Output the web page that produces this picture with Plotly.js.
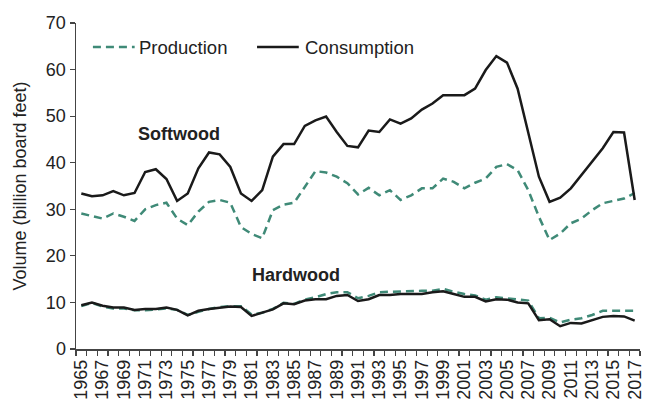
<!DOCTYPE html>
<html>
<head>
<meta charset="utf-8">
<script src="https://cdn.plot.ly/plotly-3.0.1.min.js"></script>
<style>
html,body{margin:0;padding:0;background:#fff;}
#chart{width:645px;height:403px;}
</style>
</head>
<body>
<div id="chart"></div>
<script>
var years = [];
for (var yr = 1965; yr <= 2017; yr++) years.push(yr);

var softwoodConsumption = [33.4,32.8,33.0,33.9,33.0,33.5,38.0,38.6,36.5,31.8,33.4,38.8,42.2,41.8,39.1,33.4,31.8,34.1,41.3,44.0,44.0,47.9,49.1,49.9,46.6,43.6,43.3,46.9,46.6,49.3,48.4,49.5,51.4,52.7,54.5,54.5,54.5,55.9,59.9,62.9,61.5,55.9,46.3,37.0,31.6,32.5,34.5,37.3,40.2,43.1,46.6,46.5,32.0];
var softwoodProduction = [29.1,28.5,28.0,29.1,28.4,27.5,30.0,30.9,31.4,28.0,26.6,29.5,31.6,32.0,31.4,26.2,24.7,23.8,29.8,31.0,31.4,34.8,38.2,37.9,37.0,35.6,33.2,34.6,33.0,34.1,32.0,33.0,34.5,34.5,36.6,35.9,34.5,35.7,36.6,39.1,39.7,38.4,34.1,28.4,23.4,24.8,27.0,28.0,29.8,31.3,31.8,32.3,33.5];
var hardwoodConsumption = [9.4,10.0,9.3,8.9,8.9,8.4,8.6,8.6,8.9,8.4,7.2,8.2,8.6,8.9,9.1,9.0,7.1,7.8,8.5,9.8,9.6,10.4,10.7,10.7,11.4,11.6,10.3,10.7,11.6,11.6,11.8,11.8,11.8,12.2,12.4,11.8,11.2,11.2,10.2,10.7,10.6,10.0,9.8,6.2,6.4,4.9,5.6,5.5,6.2,6.9,7.1,7.0,6.1];
var hardwoodProduction = [9.2,9.9,9.1,8.7,8.7,8.3,8.3,8.5,8.7,8.4,7.3,8.0,8.6,9.0,9.2,9.2,7.4,7.8,8.6,9.9,9.7,10.6,11.1,11.8,12.2,12.2,10.9,11.4,12.2,12.3,12.4,12.4,12.5,12.5,12.9,12.3,11.8,11.5,10.6,11.1,10.9,10.7,10.4,6.6,6.7,5.7,6.3,6.6,7.3,8.2,8.2,8.2,8.2];
var tickYears = [];
for (var t = 1965; t <= 2017; t += 2) tickYears.push(t);
var tickLabels = tickYears.map(String);
var seriesNames = ['Production', 'Consumption'];

var green = '#3f8a77';
var black = '#1a1a1a';
var font = 'Arial, "Liberation Sans", sans-serif';
var dashStyle = '8px,5px';

var traces = [
  {x: years, y: softwoodProduction, type: 'scatter', mode: 'lines', name: seriesNames[0],
   line: {color: green, width: 2.5, dash: dashStyle}},
  {x: years, y: softwoodConsumption, type: 'scatter', mode: 'lines', name: seriesNames[1],
   line: {color: black, width: 2.5}},
  {x: years, y: hardwoodProduction, type: 'scatter', mode: 'lines', name: seriesNames[0],
   line: {color: green, width: 2.5, dash: dashStyle}},
  {x: years, y: hardwoodConsumption, type: 'scatter', mode: 'lines', name: seriesNames[1],
   line: {color: black, width: 2.5}}
];

var layout = {
  width: 645, height: 403,
  margin: {l: 76, r: 5, t: 23, b: 54},
  paper_bgcolor: '#fff', plot_bgcolor: '#fff',
  font: {family: font, size: 18, color: '#222'},
  showlegend: false,
  xaxis: {
    range: [1964.5, 2017.5], tickmode: 'array', tickvals: tickYears, ticktext: tickLabels,
    tickangle: -90, ticks: 'outside', ticklen: 2, tickcolor: 'rgba(0,0,0,0)',
    tickfont: {size: 18, color: '#222'}, ticklabeloverflow: 'allow',
    showline: true, linecolor: '#444', linewidth: 1.5, showgrid: false, zeroline: false,
    minor: {tickmode: 'linear', tick0: 1964.5, dtick: 1, ticks: 'outside', ticklen: 5,
            tickcolor: '#444', tickwidth: 1.2, showgrid: false}
  },
  yaxis: {
    range: [0, 70], dtick: 10, tick0: 0, ticks: 'outside', ticklen: 5, tickcolor: '#444',
    tickwidth: 1.2, tickfont: {size: 18, color: '#222'},
    showline: true, linecolor: '#444', linewidth: 1.5, showgrid: false, zeroline: false,
    title: {text: 'Volume (billion board feet)', font: {size: 18, color: '#222'}, standoff: 14}
  },
  shapes: [
    {type: 'line', xref: 'paper', yref: 'paper', x0: 0.030, x1: 0.104, y0: 0.926, y1: 0.926,
     line: {color: green, width: 2.5, dash: dashStyle}},
    {type: 'line', xref: 'paper', yref: 'paper', x0: 0.321, x1: 0.395, y0: 0.926, y1: 0.926,
     line: {color: black, width: 2.5}}
  ],
  annotations: [
    {x: 0.108, y: 0.926, xref: 'paper', yref: 'paper', xanchor: 'left', yanchor: 'middle',
     text: seriesNames[0], showarrow: false, font: {size: 18.5, color: '#222'}},
    {x: 0.402, y: 0.926, xref: 'paper', yref: 'paper', xanchor: 'left', yanchor: 'middle',
     text: seriesNames[1], showarrow: false, font: {size: 18.5, color: '#222'}},
    {x: 1974.2, y: 46.1, xref: 'x', yref: 'y', text: '<b>Softwood</b>', showarrow: false,
     font: {size: 18, color: '#222'}},
    {x: 1985.2, y: 15.9, xref: 'x', yref: 'y', text: '<b>Hardwood</b>', showarrow: false,
     font: {size: 18, color: '#222'}}
  ]
};

Plotly.newPlot('chart', traces, layout, {displayModeBar: false, staticPlot: true});
</script>
</body>
</html>
